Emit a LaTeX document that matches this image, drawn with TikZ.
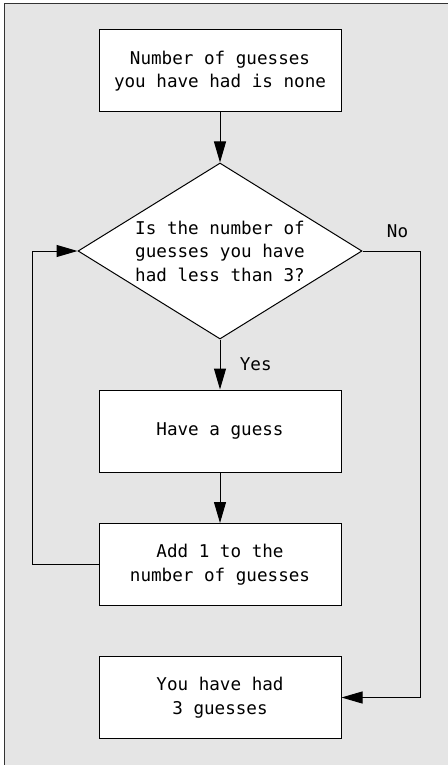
\documentclass[tikz,border=0pt]{standalone}
\usepackage{fontspec}
\setmonofont{DejaVu Sans Mono}
\usetikzlibrary{shapes.geometric,arrows.meta}

\begin{document}
\begin{tikzpicture}[x=1pt, y=-1pt, thick,
        font=\ttfamily\fontsize{17.6}{23.5}\selectfont,
        box/.style = {draw, fill=white, line width=1pt, minimum width=242pt, minimum height=82pt, align=center},
        test/.style = {draw, fill=white, line width=1pt, diamond, aspect=1.6, inner sep=1pt, minimum width=284pt, minimum height=176pt, align=center},
        arr/.style = {line width=1pt, -{Triangle[length=21pt, width=12pt]}}]
    \useasboundingbox (0,0) rectangle (447,765);
    \fill[gray!20, draw=black!80, line width=1.5pt] (4.5,3.5) rectangle (470,790);

        \node[box] (start) at (220,71) {Number of guesses\\you have had is none};
        \node[test] (check) [below of = start, node distance=180pt] {Is the number of\\guesses you have\\had less than 3?};
        \node[box] (guess) [below of = check, node distance=180pt] {Have a guess};
        \node[box] (add) [below of = guess, node distance=133.5pt] {Add 1 to the\\number of guesses};
        \node[box] (done) [below of = add, node distance=133pt] {You have had\\3 guesses};

        \draw[arr] (start) -- (check);
        \draw[arr] (check) -- (guess) node [midway, right, xshift=16pt] {Yes};
        \draw[arr] (guess) -- (add);
        \draw[arr] (add.west) -- ([xshift=-66pt]add.west) |- (check.west);
        \draw[arr] (check.east) -- ([xshift=58pt]check.east) node [midway, above, yshift=9pt, xshift=6pt] {No} |- (done.east);

    \end{tikzpicture}
\end{document}
